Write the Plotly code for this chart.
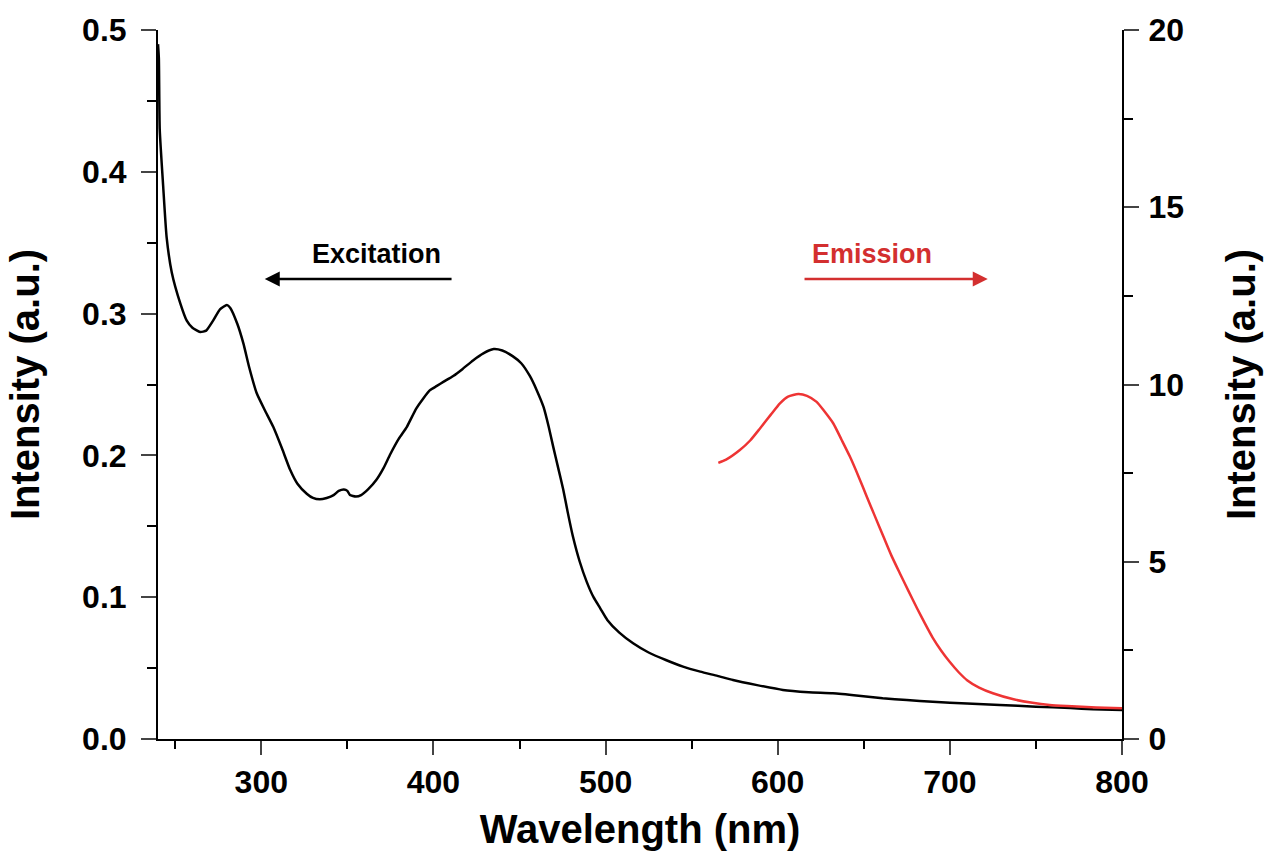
import plotly.graph_objects as go

# Excitation spectrum (left axis)
exc_wl = [240, 240.5, 241, 243, 245, 248, 253, 256.7, 260, 264.5, 268, 272, 276, 280, 282, 286,
          289.6, 293, 297.3, 302, 307, 312, 316.7, 321, 326.4, 330, 334, 338, 342, 345, 348, 350,
          351.5, 355, 358, 362, 367, 371, 375, 380, 384.5, 390, 394, 398, 402, 406, 411.5, 417,
          423, 429, 435, 440, 446, 451, 456, 460, 464, 467, 469.6, 472.5, 475.4, 478, 481, 485,
          489, 493, 497, 501, 508, 516, 525, 535, 545, 555, 565, 574, 588, 603, 618, 632, 647,
          661, 675, 690, 710, 729, 750, 770, 783, 800]
exc_val = [0.49, 0.48, 0.43, 0.39, 0.354, 0.329, 0.307, 0.295, 0.29, 0.287, 0.288, 0.295, 0.303,
           0.306, 0.304, 0.293, 0.279, 0.262, 0.244, 0.232, 0.220, 0.205, 0.190, 0.180, 0.173,
           0.170, 0.169, 0.170, 0.172, 0.175, 0.176, 0.175, 0.172, 0.171, 0.172, 0.176, 0.183,
           0.191, 0.201, 0.212, 0.220, 0.233, 0.240, 0.246, 0.249, 0.252, 0.256, 0.261, 0.267,
           0.272, 0.275, 0.274, 0.270, 0.265, 0.256, 0.246, 0.234, 0.220, 0.206, 0.191, 0.176,
           0.160, 0.143, 0.125, 0.111, 0.100, 0.092, 0.084, 0.075, 0.0675, 0.061, 0.0557, 0.051,
           0.0475, 0.0445, 0.0416, 0.038, 0.0346, 0.033, 0.0322, 0.0305, 0.0287, 0.0275, 0.0263,
           0.025, 0.024, 0.0228, 0.0218, 0.021, 0.0205]

# Emission spectrum (right axis)
em_wl = [565.5, 570, 578, 584, 589.7, 596, 601.3, 606, 612, 617, 622.6, 627, 632.3, 637, 642, 647,
         651.7, 656.5, 661.4, 666, 671, 676, 681, 685.5, 690, 695, 700, 705, 710, 717, 725,
         737, 748, 758, 768, 785, 800]
em_val = [7.79, 7.88, 8.15, 8.42, 8.76, 9.15, 9.47, 9.66, 9.73, 9.68, 9.51, 9.25, 8.90, 8.45, 7.96,
          7.40, 6.84, 6.28, 5.71, 5.18, 4.67, 4.17, 3.68, 3.26, 2.86, 2.49, 2.17, 1.89, 1.66, 1.45,
          1.29, 1.12, 1.02, 0.96, 0.93, 0.89, 0.87]

x_ticks = [300, 400, 500, 600, 700, 800]
y_left_ticks = [0.0, 0.1, 0.2, 0.3, 0.4, 0.5]
y_right_ticks = [0, 5, 10, 15, 20]

FONT = "Liberation Sans, Arial, sans-serif"
RED_LINE = "#ee3434"
RED_TEXT = "#d32f2f"

fig = go.Figure()
fig.add_trace(go.Scatter(x=exc_wl, y=exc_val, mode="lines",
                         line=dict(color="black", width=2.5, shape="spline", smoothing=0.5),
                         showlegend=False, yaxis="y"))
fig.add_trace(go.Scatter(x=em_wl, y=em_val, mode="lines",
                         line=dict(color=RED_LINE, width=2.5, shape="spline", smoothing=0.6),
                         showlegend=False, yaxis="y2"))

tickfont = dict(family=FONT, size=32, color="black", weight="bold")
titlefont = dict(family=FONT, size=40, color="black", weight="bold")

fig.update_layout(
    width=1274, height=867,
    margin=dict(l=158, r=152, t=30, b=128),
    plot_bgcolor="white", paper_bgcolor="white",
    xaxis=dict(range=[240, 800], tickvals=x_ticks, ticks="outside", ticklen=14, tickwidth=2,
               showline=True, linecolor="black", linewidth=2, showgrid=False, zeroline=False,
               tickfont=tickfont,
               title=dict(text="Wavelength (nm)", font=titlefont, standoff=16),
               minor=dict(dtick=50, tick0=250, ticks="outside", ticklen=8, tickwidth=2,
                          tickcolor="black", showgrid=False)),
    yaxis=dict(range=[0, 0.5], tickvals=y_left_ticks, tickformat=".1f", ticks="outside",
               ticklen=15, tickwidth=2, showline=True, linecolor="black", linewidth=2,
               showgrid=False, zeroline=False, tickfont=tickfont, ticklabelstandoff=8,
               title=dict(text="Intensity (a.u.)", font=titlefont, standoff=30),
               minor=dict(dtick=0.05, ticks="outside", ticklen=9, tickwidth=2,
                          tickcolor="black", showgrid=False)),
    yaxis2=dict(range=[0, 20], tickvals=y_right_ticks, overlaying="y", side="right",
                ticks="outside", ticklen=15, tickwidth=2, showline=True, linecolor="black",
                linewidth=2, showgrid=False, zeroline=False, tickfont=tickfont,
                ticklabelstandoff=3,
                title=dict(text="Intensity (a.u.)", font=titlefont, standoff=44),
                minor=dict(dtick=2.5, ticks="outside", ticklen=9, tickwidth=2,
                           tickcolor="black", showgrid=False)),
)

# Labels with arrows
fig.add_annotation(x=367.2, y=0.342, xref="x", yref="y", text="Excitation", showarrow=False,
                   font=dict(family=FONT, size=27, color="black", weight="bold"))
fig.add_annotation(x=302, y=0.3244, ax=411.4, ay=0.3244, xref="x", yref="y", axref="x", ayref="y",
                   text="", showarrow=True, arrowhead=2, arrowsize=1.2, arrowwidth=2.5,
                   arrowcolor="black")
fig.add_annotation(x=654.8, y=0.342, xref="x", yref="y", text="Emission", showarrow=False,
                   font=dict(family=FONT, size=27, color=RED_TEXT, weight="bold"))
fig.add_annotation(x=722, y=0.3244, ax=614.7, ay=0.3244, xref="x", yref="y", axref="x", ayref="y",
                   text="", showarrow=True, arrowhead=2, arrowsize=1.2, arrowwidth=2.5,
                   arrowcolor=RED_TEXT)

fig.write_html("out.html")
